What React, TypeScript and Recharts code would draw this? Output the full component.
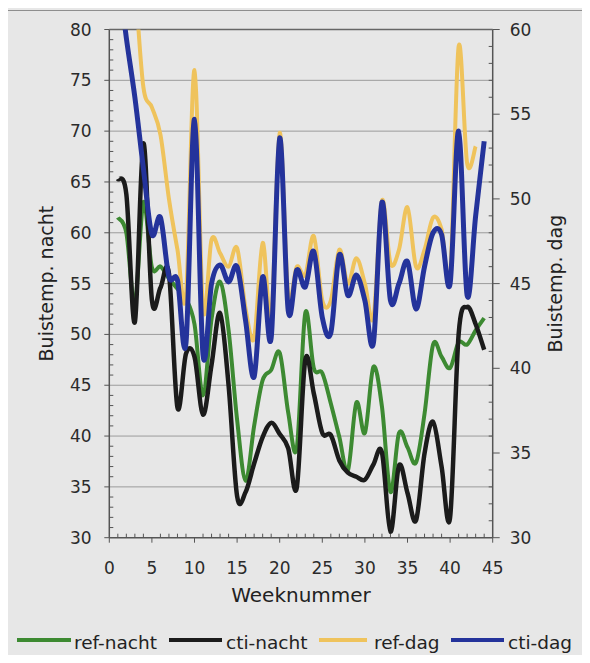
import React from 'react';
import { LineChart, Line, XAxis, YAxis, Legend, ReferenceLine } from 'recharts';

const FONT = '"DejaVu Sans", "Liberation Sans", Arial, sans-serif';

// Week numbers
const weeks = [
  1, 2, 3, 4, 5, 6, 7, 8, 9, 10, 11, 12, 13, 14, 15, 16, 17, 18, 19, 20, 21, 22,
  23, 24, 25, 26, 27, 28, 29, 30, 31, 32, 33, 34, 35, 36, 37, 38, 39, 40, 41, 42, 43, 44,
];

// Buistemp. nacht (left axis)
const refNacht = [
  61.5, 60, 53, 63, 56.6, 56.7, 55.5, 54.5, 53.5, 51, 44, 51.5, 55.2, 50.4, 41.6, 35.6, 41, 45.5,
  46.5, 48.2, 42.3, 38.8, 52.1, 46.7, 46.2, 43.2, 39.9, 36.6, 43.3, 40.3, 46.8, 42.9, 34.5, 40.3,
  38.9, 37.4, 42.2, 49, 47.8, 46.7, 49.2, 49, 50.4, 51.6,
];
const ctiNacht = [
  65.3, 63.8, 51.2, 68.8, 53.4, 54.6, 56, 42.8, 48.1, 47.8, 42.1, 47, 52.1, 45, 34.1, 34.5, 37.3, 39.9,
  41.3, 40.2, 38.8, 34.9, 47.5, 44.2, 40.3, 40.1, 37.6, 36.4, 36, 35.7, 37.2, 38.4, 30.6, 37.1,
  34.4, 31.7, 38.3, 41.4, 37, 32, 50, 52.7, 51, 48.5,
];

// Buistemp. dag (right axis)
const refDag = [
  66, 65, 62.5, 56.6, 55.4, 53.8, 50, 47, 44.3, 57.6, 43.5, 47.6, 46.8, 46.0, 47.1, 43.5, 41.8, 47.4,
  43, 53.9, 44.3, 46, 45.5, 47.8, 44, 44, 47, 45, 46.5, 45, 43, 49.9, 46.2, 47, 49.5, 46, 47, 48.9,
  48.2, 45.4, 59, 52.1, 53.1, null,
];
const ctiDag = [
  63.5, 59.5, 56, 51.8, 47.9, 48.9, 45.4, 45.2, 41.5, 54.7, 40.8, 45, 46.1, 45.1, 46, 42.8, 39.5, 45.4,
  41.8, 53.6, 43.4, 45.8, 44.8, 46.9, 43, 42.1, 46.7, 44.3, 45.5, 44, 41.5, 49.8, 44, 45, 46.3, 43.5,
  46, 48, 47.9, 45, 54, 44.3, 49, 53.4,
];

// Tick positions (major ones get labels)
const xTicks = [
  0, 1, 2, 3, 4, 5, 6, 7, 8, 9, 10, 11, 12, 13, 14, 15, 16, 17, 18, 19, 20, 21, 22, 23, 24, 25, 26,
  27, 28, 29, 30, 31, 32, 33, 34, 35, 36, 37, 38, 39, 40, 41, 42, 43, 44, 45,
];
const leftTicks = [
  30, 31, 32, 33, 34, 35, 36, 37, 38, 39, 40, 41, 42, 43, 44, 45, 46, 47, 48, 49, 50, 51, 52, 53, 54,
  55, 56, 57, 58, 59, 60, 61, 62, 63, 64, 65, 66, 67, 68, 69, 70, 71, 72, 73, 74, 75, 76, 77, 78, 79, 80,
];
const rightTicks = [
  30, 31, 32, 33, 34, 35, 36, 37, 38, 39, 40, 41, 42, 43, 44, 45, 46, 47, 48, 49, 50, 51, 52, 53, 54,
  55, 56, 57, 58, 59, 60,
];
const gridValues = [35, 40, 45, 50, 55, 60, 65, 70, 75];

const SERIES = [
  { key: 'refNacht', name: 'ref-nacht', color: '#3d8a32', axis: 'left', width: 4 },
  { key: 'ctiNacht', name: 'cti-nacht', color: '#1b1b1b', axis: 'left', width: 4.5 },
  { key: 'refDag', name: 'ref-dag', color: '#efc35c', axis: 'right', width: 4 },
  { key: 'ctiDag', name: 'cti-dag', color: '#24339b', axis: 'right', width: 5 },
];

const data = weeks.map((w, i) => ({
  week: w,
  refNacht: refNacht[i],
  ctiNacht: ctiNacht[i],
  refDag: refDag[i],
  ctiDag: ctiDag[i],
}));

// Excel-like smoothed line (Catmull-Rom bezier)
function smoothCurve(context: any) {
  let pts: number[][] = [];
  return {
    areaStart() {},
    areaEnd() {},
    lineStart() {
      pts = [];
    },
    lineEnd() {
      const n = pts.length;
      if (n === 0) return;
      context.moveTo(pts[0][0], pts[0][1]);
      if (n === 1) return;
      for (let i = 0; i < n - 1; i++) {
        const p0 = pts[i - 1] || pts[i];
        const p1 = pts[i];
        const p2 = pts[i + 1];
        const p3 = pts[i + 2] || p2;
        const c1x = p1[0] + (p2[0] - p0[0]) / 6;
        const c1y = p1[1] + (p2[1] - p0[1]) / 6;
        const c2x = p2[0] - (p3[0] - p1[0]) / 6;
        const c2y = p2[1] - (p3[1] - p1[1]) / 6;
        context.bezierCurveTo(c1x, c1y, c2x, c2y, p2[0], p2[1]);
      }
    },
    point(x: number, y: number) {
      pts.push([+x, +y]);
    },
  };
}

const legendLineX = [17, 169, 319, 451];
const legendLineEnd = [71, 222, 367, 504];
const legendTextX = [74, 226, 374, 508];

const renderLegend = () => (
  <svg width={590} height={40} style={{ display: 'block' }}>
    {SERIES.map((s, i) => (
      <g key={s.key}>
        <line x1={legendLineX[i]} x2={legendLineEnd[i]} y1={20} y2={20} stroke={s.color} strokeWidth={4} />
        <text x={legendTextX[i]} y={29} fontSize={18.5} fontFamily={FONT} fill="#222">
          {s.name}
        </text>
      </g>
    ))}
  </svg>
);

const TEXT_FILL = '#2b2b2b';
const axisStroke = '#555';
const tickStroke = '#555';

const XTick = (props: any) => {
  const { x, y, payload } = props;
  const v = payload.value;
  const axisY = y - 24;
  const major = v % 5 === 0;
  return (
    <g>
      <line x1={x} x2={x} y1={axisY} y2={major ? axisY + 5 : axisY - 4} stroke={tickStroke} strokeWidth={1} />
      {major && (
        <text x={x} y={y} dy="0.71em" textAnchor="middle" fontSize={17} fontFamily={FONT} fill={TEXT_FILL}>
          {v}
        </text>
      )}
    </g>
  );
};

const LeftTick = (props: any) => {
  const { x, y, payload } = props;
  const v = payload.value;
  const axisX = x + 17.6;
  const major = v % 5 === 0;
  return (
    <g>
      <line x1={axisX} x2={major ? axisX - 5 : axisX + 4} y1={y} y2={y} stroke={tickStroke} strokeWidth={1} />
      {major && (
        <text x={x} y={y} dy="0.355em" textAnchor="end" fontSize={17} fontFamily={FONT} fill={TEXT_FILL}>
          {v}
        </text>
      )}
    </g>
  );
};

const RightTick = (props: any) => {
  const { x, y, payload } = props;
  const v = payload.value;
  const axisX = x - 17;
  const major = v % 5 === 0;
  return (
    <g>
      <line x1={axisX} x2={major ? axisX + 7 : axisX - 4} y1={y} y2={y} stroke={tickStroke} strokeWidth={1} />
      {major && (
        <text x={x} y={y} dy="0.355em" textAnchor="start" fontSize={17} fontFamily={FONT} fill={TEXT_FILL}>
          {v}
        </text>
      )}
    </g>
  );
};

export default function App() {
  return (
    <div
      style={{
        margin: -8,
        width: 590,
        height: 663,
        background: '#e7e7e7',
        position: 'relative',
        overflow: 'hidden',
      }}
    >
      <div
        style={{
          position: 'absolute',
          left: 7,
          top: 10,
          right: -4,
          bottom: -4,
          borderLeft: '1.5px solid #8e8e8e',
          borderTop: '1.5px solid #8e8e8e',
        }}
      />
      <LineChart
        width={590}
        height={663}
        data={data}
        margin={{ top: 29.5, left: 30, right: 17.3, bottom: 15.3 }}
        style={{ fontFamily: FONT }}
      >
        <XAxis
          dataKey="week"
          type="number"
          domain={[0, 45]}
          ticks={xTicks}
          interval={0}
          allowDataOverflow
          height={70}
          tickSize={5}
          tickMargin={19}
          axisLine={{ stroke: axisStroke, strokeWidth: 1.5 }}
          tickLine={false}
          tick={<XTick />}
          label={{
            value: 'Weeknummer',
            position: 'insideBottom',
            offset: 5.7,
            fill: '#222',
            fontSize: 20,
            fontFamily: FONT,
          }}
        />
        <YAxis
          yAxisId="left"
          orientation="left"
          type="number"
          domain={[30, 80]}
          ticks={leftTicks}
          interval={0}
          allowDataOverflow
          width={79.3}
          tickSize={5}
          tickMargin={12.6}
          axisLine={{ stroke: axisStroke, strokeWidth: 1.5 }}
          tickLine={false}
          tick={<LeftTick />}
          label={{
            value: 'Buistemp. nacht',
            angle: -90,
            position: 'insideLeft',
            offset: 16,
            style: { textAnchor: 'middle' },
            fill: '#222',
            fontSize: 19,
            fontFamily: FONT,
          }}
        />
        <YAxis
          yAxisId="right"
          orientation="right"
          type="number"
          domain={[30, 60]}
          ticks={rightTicks}
          interval={0}
          allowDataOverflow
          width={80}
          tickSize={7}
          tickMargin={10}
          axisLine={{ stroke: axisStroke, strokeWidth: 1.5 }}
          tickLine={false}
          tick={<RightTick />}
          label={{
            value: 'Buistemp. dag',
            angle: -90,
            position: 'insideRight',
            offset: 17.7,
            style: { textAnchor: 'middle' },
            fill: '#222',
            fontSize: 19,
            fontFamily: FONT,
          }}
        />
        {gridValues.map((g) => (
          <ReferenceLine key={g} yAxisId="left" y={g} stroke="#9b9b9b" strokeWidth={1} />
        ))}
        <ReferenceLine yAxisId="left" y={80} stroke="#666" strokeWidth={1.5} />
        <Legend
          verticalAlign="bottom"
          content={renderLegend}
          wrapperStyle={{ left: 0, top: 620, width: 590, height: 40 }}
        />
        {SERIES.map((s) => (
          <Line
            key={s.key}
            yAxisId={s.axis}
            dataKey={s.key}
            name={s.name}
            type={smoothCurve as any}
            stroke={s.color}
            strokeWidth={s.width}
            dot={false}
            activeDot={false}
            isAnimationActive={false}
          />
        ))}
      </LineChart>
    </div>
  );
}
